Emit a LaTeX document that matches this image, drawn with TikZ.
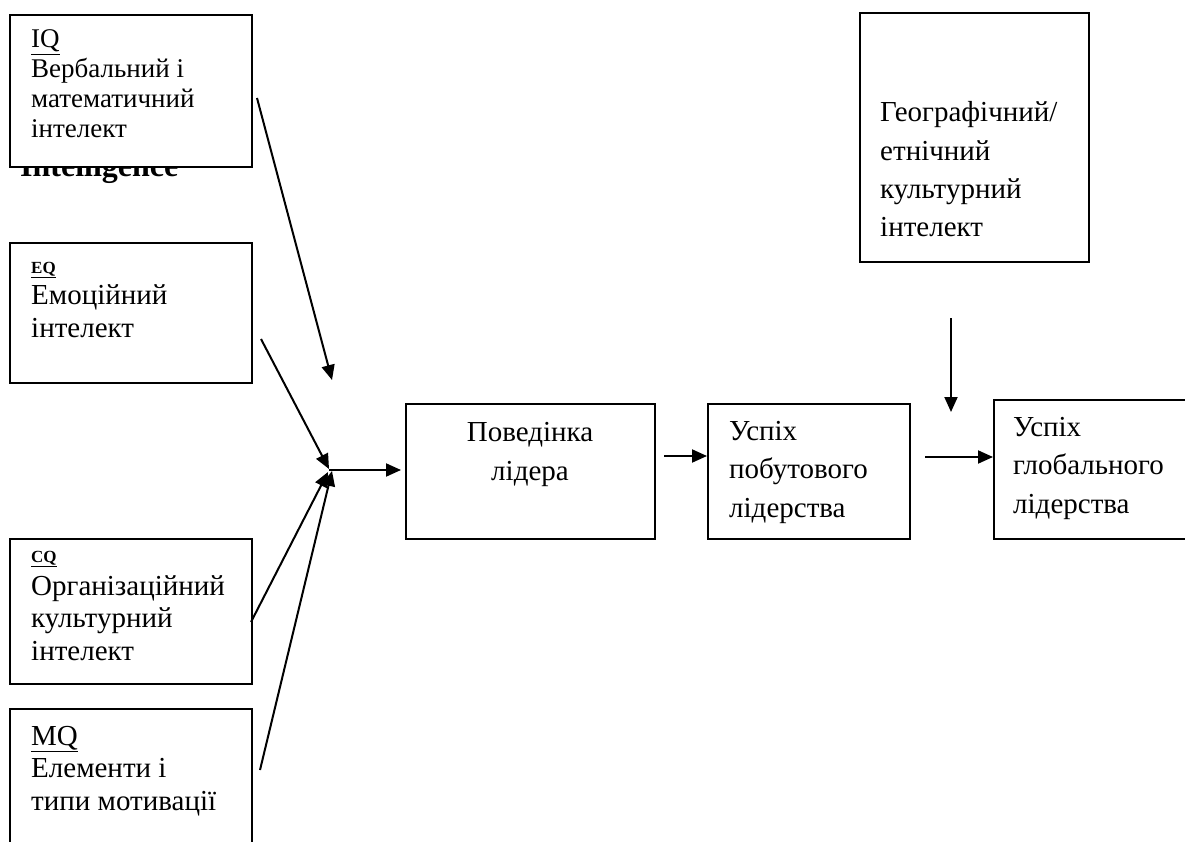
\documentclass[tikz,border=0pt]{standalone}
\usepackage{fontspec}
\setmainfont{Liberation Serif}
\usetikzlibrary{arrows.meta}
\begin{document}
\begin{tikzpicture}[x=1pt,y=-1pt,
  box/.style={draw=black,line width=1.6pt,fill=white,inner sep=0pt,anchor=north west},
  txt/.style={inner sep=0pt,anchor=base west,align=left},
  arr/.style={line width=2pt,-{Triangle[length=15pt,width=13pt]}},
  lbl/.style={inner sep=0pt,anchor=base west,font=\bfseries\fontsize{17}{20}\selectfont},
  bodyS/.style={font=\fontsize{27}{30}\selectfont},
  bodyL/.style={font=\fontsize{29}{32.5}\selectfont},
  bodyW/.style={font=\fontsize{29}{38.5}\selectfont}]
\useasboundingbox (0,0) rectangle (1185,842);
% hidden heading
\node[inner sep=0pt,anchor=base west,font=\bfseries\fontsize{32}{36}\selectfont] (heading) at (20,177) {Intelligence};
% boxes
\node[box,minimum width=242pt,minimum height=152pt] (iq) at (9,14) {};
\node[box,minimum width=242pt,minimum height=140pt] (eq) at (9,242) {};
\node[box,minimum width=242pt,minimum height=145pt] (cq) at (9,538) {};
\node[box,minimum width=242pt,minimum height=150pt] (mq) at (9,708) {};
\node[box,minimum width=249pt,minimum height=135pt] (beh) at (405,403) {};
\node[box,minimum width=202pt,minimum height=135pt] (dom) at (707,403) {};
\node[box,minimum width=200pt,minimum height=139pt] (glob) at (993,399) {};
\node[box,minimum width=229pt,minimum height=249pt] (geo) at (859,12) {};
% texts (anchored at the baseline of the last line)
\node[txt,bodyS] (iqt) at (31,138) {\underline{IQ}\\Вербальний і\\математичний\\інтелект};
\node[lbl] (eql) at (31,273) {\underline{EQ}};
\node[txt,bodyL] (eqt) at (31,337) {Емоційний\\інтелект};
\node[lbl] (cql) at (31,562) {\underline{CQ}};
\node[txt,bodyL] (cqt) at (31,660) {Організаційний\\культурний\\інтелект};
\node[txt,bodyL] (mqt) at (31,810) {\underline{MQ}\\Елементи і\\типи мотивації};
\node[inner sep=0pt,anchor=base,align=center,bodyW] (beht) at (530,480) {Поведінка\\лідера};
\node[txt,bodyW] (domt) at (729,517) {Успіх\\побутового\\лідерства};
\node[txt,bodyW] (globt) at (1013,513) {Успіх\\глобального\\лідерства};
\node[txt,bodyW] (geot) at (880,237) {Географічний/\\етнічний\\культурний\\інтелект};
% connector points
\coordinate (j) at (329,470);
\coordinate (iqs) at (257,98);
\coordinate (iqe) at (332,380);
\coordinate (eqs) at (261,339);
\coordinate (eqe) at (329,469);
\coordinate (cqs) at (251,622);
\coordinate (cqe) at (328,472);
\coordinate (mqs) at (260,770);
\coordinate (mqe) at (332,471);
\coordinate (b1) at (664,456);
\coordinate (b2) at (925,457);
\coordinate (gs) at (951,318);
\coordinate (ge) at (951,412);
% arrows
\draw[arr] (iqs) -- (iqe);
\draw[arr] (eqs) -- (eqe);
\draw[arr] (cqs) -- (cqe);
\draw[arr] (mqs) -- (mqe);
\draw[arr,shorten >=4pt] (j) -- (j -| beh.west);
\draw[arr] (b1) -- (b1 -| dom.west);
\draw[arr] (b2) -- (b2 -| glob.west);
\draw[arr] (gs) -- (ge);
\end{tikzpicture}
\end{document}
